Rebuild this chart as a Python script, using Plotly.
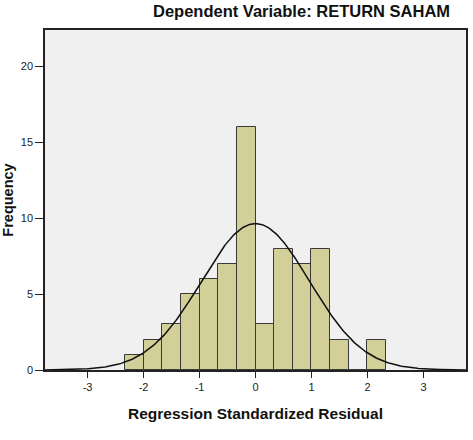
import numpy as np
import plotly.graph_objects as go

# Histogram data (bins of width 1/3 starting at -7/3)
bin_left_edges = [-7/3, -2, -5/3, -4/3, -1, -2/3, -1/3, 0, 1/3, 2/3, 1, 4/3, 5/3, 2]
frequencies = [1, 2, 3, 5, 6, 7, 16, 3, 8, 7, 8, 2, 0, 2]
bin_width = 1/3
resid_mean = 0.0
resid_std = 0.965
n_obs = sum(frequencies)

x_ticks = [-3, -2, -1, 0, 1, 2, 3]
y_ticks = [0, 5, 10, 15, 20]

centers = [e + bin_width / 2 for e in bin_left_edges]

xs = np.linspace(-3.76, 3.76, 400)
ys = n_obs * bin_width / (resid_std * np.sqrt(2 * np.pi)) * np.exp(-0.5 * ((xs - resid_mean) / resid_std) ** 2)

fig = go.Figure()
fig.add_trace(go.Bar(
    x=centers, y=frequencies, width=bin_width,
    marker=dict(color="#D3CF98", line=dict(color="#3a3a3a", width=1)),
    showlegend=False, hoverinfo="x+y",
))
fig.add_trace(go.Scatter(
    x=xs, y=ys, mode="lines", line=dict(color="#111111", width=1.5),
    showlegend=False, hoverinfo="skip",
))

font_family = "Liberation Sans, Arial, sans-serif"

fig.update_layout(
    width=473, height=440,
    margin=dict(l=45, r=7, t=30, b=70, autoexpand=False),
    paper_bgcolor="white",
    plot_bgcolor="#F0F0F0",
    bargap=0,
    font=dict(family=font_family, color="#222222", size=11),
    xaxis=dict(
        range=[-3.76, 3.76], tickvals=x_ticks, ticktext=[str(t) for t in x_ticks],
        ticks="outside", ticklen=6, tickcolor="#222", tickwidth=1,
        tickfont=dict(color="#222", size=11, family=font_family),
        showline=True, linecolor="#222", linewidth=1.5, mirror=True,
        showgrid=False, zeroline=False, automargin=False,
        title=dict(text="<b>Regression Standardized Residual</b>",
                   font=dict(size=15.5, color="#111", family=font_family), standoff=16),
    ),
    yaxis=dict(
        range=[0, 22.4], tickvals=y_ticks, ticktext=[str(t) for t in y_ticks],
        ticks="outside", ticklen=8, tickcolor="#222", tickwidth=1,
        tickfont=dict(color="#222", size=11, family=font_family),
        showline=True, linecolor="#222", linewidth=1.5, mirror=True,
        showgrid=False, zeroline=False, automargin=False,
        title=dict(text="<b>Frequency</b>",
                   font=dict(size=14.5, color="#111", family=font_family), standoff=10),
    ),
    annotations=[dict(
        text="<b>Dependent Variable: RETURN SAHAM</b>",
        xref="paper", yref="paper", x=0.61, y=1 + 30/340,
        xanchor="center", yanchor="top", showarrow=False,
        font=dict(size=16.5, color="#111", family=font_family),
    )],
)

fig.write_html("out.html")
